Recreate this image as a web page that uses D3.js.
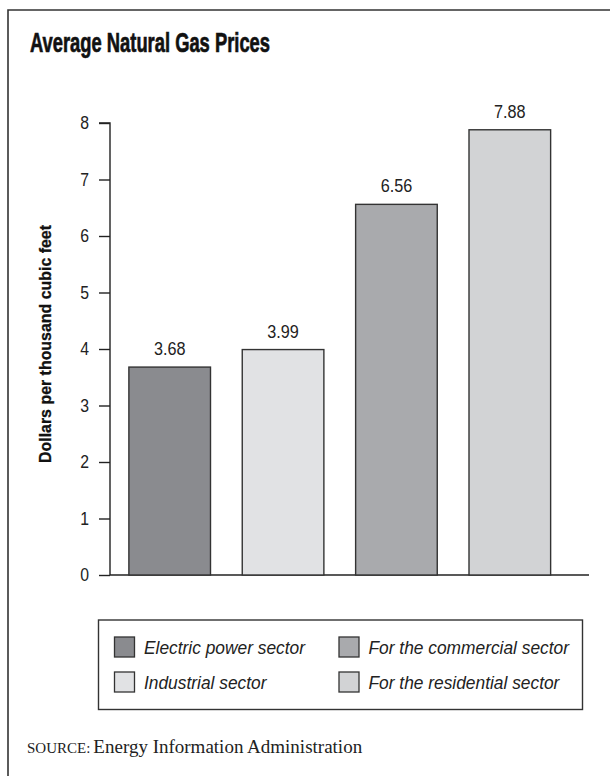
<!DOCTYPE html>
<html>
<head>
<meta charset="utf-8">
<script src="https://cdn.jsdelivr.net/npm/d3@7"></script>
<style>
  html, body { margin: 0; padding: 0; background: #fff; }
  svg { display: block; }
  .sans { font-family: "Liberation Sans", Arial, Helvetica, sans-serif; }
</style>
</head>
<body>
<svg id="chart" width="610" height="776"></svg>
<script>
// ---- data ----
const categories = ["Electric power sector", "Industrial sector", "For the commercial sector", "For the residential sector"];
const values = [3.68, 3.99, 6.56, 7.88];
const valueLabels = ["3.68", "3.99", "6.56", "7.88"];
const yTicks = [0, 1, 2, 3, 4, 5, 6, 7, 8];
const colors = ["#8a8b8f", "#e1e2e4", "#a9aaad", "#d2d3d5"];
const titleText = "Average Natural Gas Prices";
const yLabel = "Dollars per thousand cubic feet";

const svg = d3.select("#chart");

// horizontally condense text by a factor
function condense(sel, f) {
  sel.each(function() {
    const w = this.getComputedTextLength();
    d3.select(this).attr("textLength", w * f).attr("lengthAdjust", "spacingAndGlyphs");
  });
}

// outer frame (cropped at right/bottom)
svg.append("path")
  .attr("d", "M8,776 L8,10 L612,10")
  .attr("fill", "none").attr("stroke", "#333").attr("stroke-width", 1.6);

// title
svg.append("text").attr("class", "sans")
  .attr("x", 30).attr("y", 52)
  .attr("font-size", 28).attr("font-weight", "bold").attr("fill", "#111")
  .attr("stroke", "#111").attr("stroke-width", 0.7)
  .attr("textLength", 240).attr("lengthAdjust", "spacingAndGlyphs")
  .text(titleText);

// scales
const y = d3.scaleLinear().domain([0, 8]).range([575, 123]);
const x = d3.scaleBand().domain(categories).range([113, 566.5]).paddingInner(0.28).paddingOuter(0.14);

// y axis
const yAxis = d3.axisLeft(y).tickValues(yTicks).tickSize(11).tickPadding(10).tickFormat(d3.format("d"));
const ga = svg.append("g").attr("transform", "translate(110,0)").call(yAxis);
ga.attr("font-family", null).attr("font-size", null);
ga.select(".domain").attr("stroke", "#222").attr("stroke-width", 1.4).attr("d", "M-11," + y(8) + "H0V" + y(0));
ga.selectAll(".tick line").attr("stroke", "#222").attr("stroke-width", 1.4);
ga.selectAll(".tick text").attr("class", "sans").attr("font-size", 17.5).attr("fill", "#222");
condense(ga.selectAll(".tick text"), 0.9);

// baseline
svg.append("line")
  .attr("x1", 110).attr("x2", 589).attr("y1", y(0)).attr("y2", y(0))
  .attr("stroke", "#222").attr("stroke-width", 1.4);

// y label
svg.append("text").attr("class", "sans")
  .attr("transform", "translate(51,344) rotate(-90)")
  .attr("text-anchor", "middle")
  .attr("font-size", 16.5).attr("font-weight", "bold").attr("fill", "#111")
  .attr("stroke", "#111").attr("stroke-width", 0.3)
  .attr("textLength", 238).attr("lengthAdjust", "spacingAndGlyphs")
  .text(yLabel);

// bars
svg.append("g").selectAll("rect").data(categories).join("rect")
  .attr("x", d => x(d))
  .attr("y", (d, i) => y(values[i]))
  .attr("width", x.bandwidth())
  .attr("height", (d, i) => y(0) - y(values[i]))
  .attr("fill", (d, i) => colors[i])
  .attr("stroke", "#333").attr("stroke-width", 1.4);

// value labels
const vl = svg.append("g").selectAll("text").data(categories).join("text")
  .attr("class", "sans")
  .attr("x", d => x(d) + x.bandwidth() / 2)
  .attr("y", (d, i) => y(values[i]) - 12)
  .attr("text-anchor", "middle")
  .attr("font-size", 18).attr("fill", "#222")
  .text((d, i) => valueLabels[i]);
condense(vl, 0.9);

// legend
svg.append("rect")
  .attr("x", 98.5).attr("y", 620).attr("width", 484).attr("height", 89.5)
  .attr("fill", "#fff").attr("stroke", "#333").attr("stroke-width", 1.4);
const legPos = [[114.5, 637], [114.5, 672], [339, 637], [339, 672]];
const lg = svg.append("g").selectAll("g").data(categories).join("g")
  .attr("transform", (d, i) => `translate(${legPos[i][0]},${legPos[i][1]})`);
lg.append("rect").attr("width", 20).attr("height", 20)
  .attr("fill", (d, i) => colors[i]).attr("stroke", "#333").attr("stroke-width", 1.3);
const lt = lg.append("text").attr("class", "sans")
  .attr("x", 29.5).attr("y", 16.5)
  .attr("font-size", 18).attr("font-style", "italic").attr("fill", "#222")
  .text(d => d);
const w0 = lt.node().getComputedTextLength();
condense(lt, 161 / w0);

// source
const src = svg.append("text")
  .attr("x", 27).attr("y", 753)
  .attr("font-family", "'Liberation Serif', 'DejaVu Serif', serif")
  .attr("fill", "#222");
src.append("tspan").attr("font-size", 15).text("SOURCE:");
src.append("tspan").attr("font-size", 19).attr("dx", 3).text("Energy Information Administration");
</script>
</body>
</html>
